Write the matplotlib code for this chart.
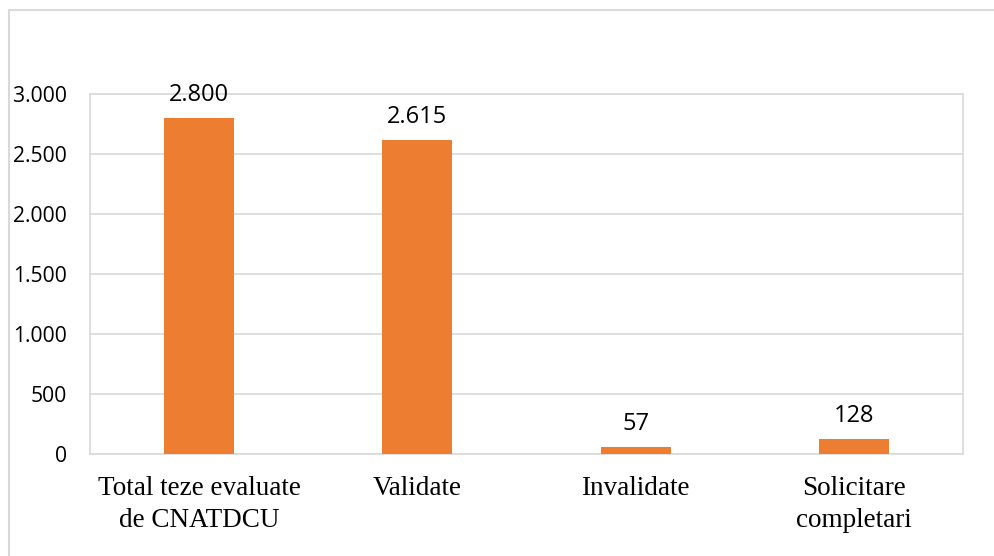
import matplotlib.pyplot as plt
from matplotlib.patches import Rectangle

categories = ['Total teze evaluate\nde CNATDCU', 'Validate', 'Invalidate', 'Solicitare\ncompletari']
values = [2800, 2615, 57, 128]
value_labels = ['2.800', '2.615', '57', '128']
yticks = [0, 500, 1000, 1500, 2000, 2500, 3000]
ytick_labels = ['0', '500', '1.000', '1.500', '2.000', '2.500', '3.000']

W, H = 994, 556
fig = plt.figure(figsize=(W / 100, H / 100), dpi=100)
fig.patches.append(Rectangle((9 / W, -0.05), 1.0, 1.05 - 10 / H, transform=fig.transFigure,
                             fill=False, edgecolor='#D9D9D9', linewidth=1.5))

ax = fig.add_axes([90 / W, (H - 454) / H, (963 - 90) / W, (454 - 94) / H])
x = range(len(categories))
bars = ax.bar(x, values, width=0.32, color='#ED7D31', zorder=3)

ax.set_xlim(-0.5, len(categories) - 0.5)
ax.set_ylim(0, 3000)
ax.set_yticks(yticks)
ax.set_yticklabels(ytick_labels, family='Open Sans', fontsize=15.2)
ax.set_xticks(list(x))
ax.set_xticklabels(categories, family='Liberation Serif', fontsize=19.5, linespacing=1.37)
ax.tick_params(axis='both', length=0)
ax.tick_params(axis='y', pad=16.5)
ax.tick_params(axis='x', pad=16)
ax.grid(axis='y', color='#D9D9D9', linewidth=1.2, zorder=0)
for s in ax.spines.values():
    s.set_color('#D9D9D9')
    s.set_linewidth(1.2)

for b, lab in zip(bars, value_labels):
    ax.annotate(lab, (b.get_x() + b.get_width() / 2, b.get_height()),
                xytext=(0, 8), textcoords='offset points', ha='center', va='bottom',
                family='Open Sans', fontsize=17)

fig.savefig('out.png', dpi=100)
